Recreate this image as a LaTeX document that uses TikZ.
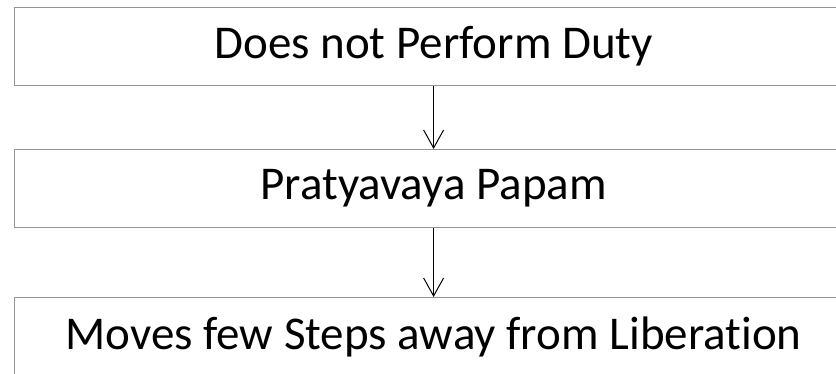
\documentclass[tikz,border=0pt]{standalone}
\usepackage{fontspec}
\setmainfont{Carlito}[Ligatures=NoCommon]
\usetikzlibrary{arrows.meta}
\begin{document}
\begin{tikzpicture}[x=1pt,y=1pt,
  stepbox/.style={draw=black!42,line width=1.2pt,fill=white,minimum width=838pt,minimum height=78pt,inner sep=0pt,font=\fontsize{47}{51}\selectfont,anchor=north west},
  link/.style={draw=black,line width=1pt,-{Straight Barb[length=18pt,width=20pt,line width=1pt]}}]
\useasboundingbox (0,0) rectangle (836,373);
\node[stepbox] (a) at (14,366) {Does not Perform Duty};
\node[stepbox] (b) at (14,224) {Pratyavaya Papam};
\node[stepbox] (c) at (14,76) {Moves few Steps away from Liberation};
\draw[link] (a.south) -- (b.north);
\draw[link] (b.south) -- (c.north);
\end{tikzpicture}
\end{document}
